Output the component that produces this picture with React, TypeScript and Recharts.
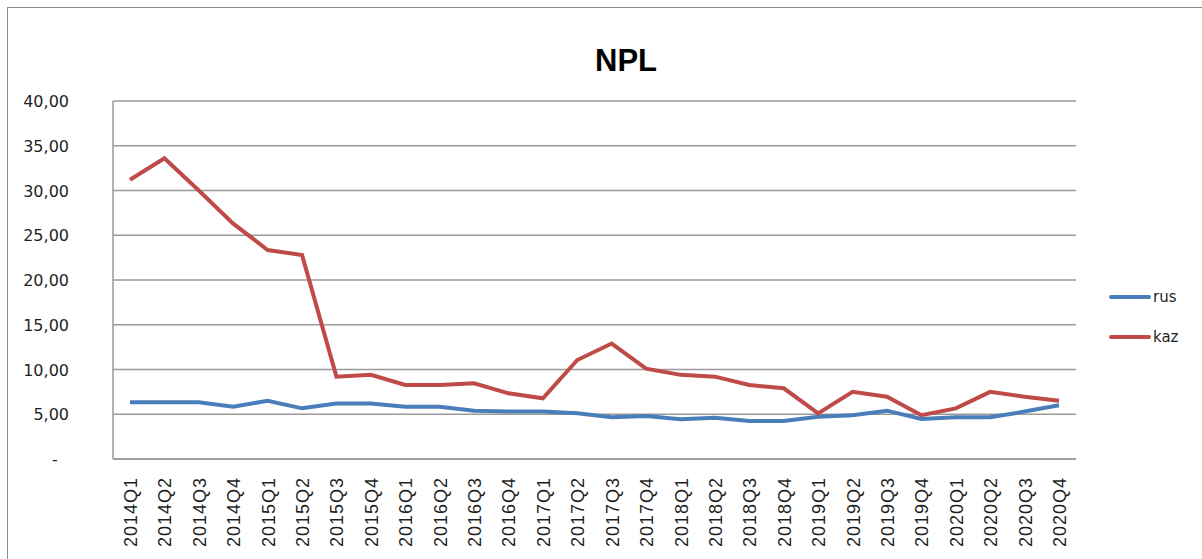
import React from "react";
import { LineChart, Line, XAxis, YAxis, CartesianGrid, Legend } from "recharts";

const quarters = [
  "2014Q1", "2014Q2", "2014Q3", "2014Q4",
  "2015Q1", "2015Q2", "2015Q3", "2015Q4",
  "2016Q1", "2016Q2", "2016Q3", "2016Q4",
  "2017Q1", "2017Q2", "2017Q3", "2017Q4",
  "2018Q1", "2018Q2", "2018Q3", "2018Q4",
  "2019Q1", "2019Q2", "2019Q3", "2019Q4",
  "2020Q1", "2020Q2", "2020Q3", "2020Q4",
];

const rus = [
  6.33, 6.33, 6.33, 5.85,
  6.5, 5.66, 6.2, 6.2,
  5.85, 5.85, 5.4, 5.3,
  5.3, 5.1, 4.66, 4.8,
  4.43, 4.6, 4.25, 4.25,
  4.73, 4.9, 5.4, 4.47,
  4.66, 4.66, 5.3, 6.0,
];

const kaz = [
  31.2, 33.6, 30.0, 26.3,
  23.35, 22.8, 9.2, 9.4,
  8.27, 8.27, 8.45, 7.34,
  6.78, 11.06, 12.9, 10.1,
  9.4, 9.2, 8.27, 7.9,
  5.1, 7.5, 6.96, 4.9,
  5.66, 7.5, 6.96, 6.5,
];

const yTicks = [0, 5, 10, 15, 20, 25, 30, 35, 40];

const seriesColors = { rus: "#4a7ebb", kaz: "#be4b48" };

const data = quarters.map((q, i) => ({ quarter: q, rus: rus[i], kaz: kaz[i] }));

const FONT = "'DejaVu Sans', Verdana, sans-serif";
const XFONT = "'Liberation Sans', Arial, sans-serif";

// Excel-style number format: 40,00 / zero shown as a dash
const fmtY = (v: number) => (v === 0 ? "-" : v.toFixed(2).replace(".", ","));

const YTick = ({ x, y, payload }: any) => {
  const isZero = payload.value === 0;
  return (
    <text
      x={isZero ? x - 50 : x - 36}
      y={y + 6}
      textAnchor={isZero ? "middle" : "end"}
      fontFamily={FONT}
      fontSize={16}
      fill="#1f1f1f"
    >
      {fmtY(payload.value)}
    </text>
  );
};

const XTick = ({ x, y, payload }: any) => (
  <text
    transform={`translate(${x + 7}, ${y + 10}) rotate(-90)`}
    textAnchor="end"
    fontFamily={XFONT}
    fontSize={18}
    letterSpacing={1}
    fill="#1f1f1f"
  >
    {payload.value}
  </text>
);

const LegendContent = () => (
  <div style={{ fontFamily: FONT, fontSize: 15, color: "#1f1f1f" }}>
    {(["rus", "kaz"] as const).map((k) => (
      <div key={k} style={{ display: "flex", alignItems: "center", height: 40 }}>
        <div style={{ width: 42, height: 4, borderRadius: 2, background: seriesColors[k] }} />
        <span style={{ marginLeft: 2 }}>{k}</span>
      </div>
    ))}
  </div>
);

export default function App() {
  return (
    <div style={{ position: "absolute", left: 0, top: 0, width: 1202, height: 559, background: "#fff" }}>
      <div
        style={{
          position: "absolute",
          left: 7,
          top: 7,
          right: 0,
          bottom: 0,
          borderLeft: "1.5px solid #8c8c8c",
          borderTop: "1.5px solid #8c8c8c",
        }}
      />
      <div
        style={{
          position: "absolute",
          left: 526,
          width: 200,
          top: 43,
          textAlign: "center",
          fontFamily: "'Liberation Sans', Arial, sans-serif",
          fontWeight: "bold",
          fontSize: 31,
          color: "#000",
        }}
      >
        NPL
      </div>
      {/* legend box (90px) is added to the right offset, so margin = 126 - 90 */}
      <LineChart
        width={1202}
        height={559}
        data={data}
        margin={{ top: 101, right: 36, bottom: 0, left: 0 }}
        style={{ position: "absolute", left: 0, top: 0 }}
      >
        <CartesianGrid vertical={false} stroke="#9a9a9a" strokeWidth={1.5} />
        <XAxis
          dataKey="quarter"
          height={100}
          interval={0}
          padding={{ left: 17, right: 17 }}
          tickLine={false}
          axisLine={{ stroke: "#9a9a9a", strokeWidth: 1.5 }}
          tick={<XTick />}
        />
        <YAxis
          width={113}
          domain={[0, 40]}
          ticks={yTicks}
          interval={0}
          tickLine={false}
          axisLine={{ stroke: "#9a9a9a", strokeWidth: 1.5 }}
          tick={<YTick />}
        />
        <Legend
          layout="horizontal"
          verticalAlign="middle"
          align="right"
          content={<LegendContent />}
          wrapperStyle={{ position: "absolute", left: 1109, top: 277, width: 90 }}
        />
        <Line
          type="linear"
          dataKey="rus"
          stroke={seriesColors.rus}
          strokeWidth={4}
          dot={false}
          isAnimationActive={false}
        />
        <Line
          type="linear"
          dataKey="kaz"
          stroke={seriesColors.kaz}
          strokeWidth={4}
          dot={false}
          isAnimationActive={false}
        />
      </LineChart>
    </div>
  );
}
